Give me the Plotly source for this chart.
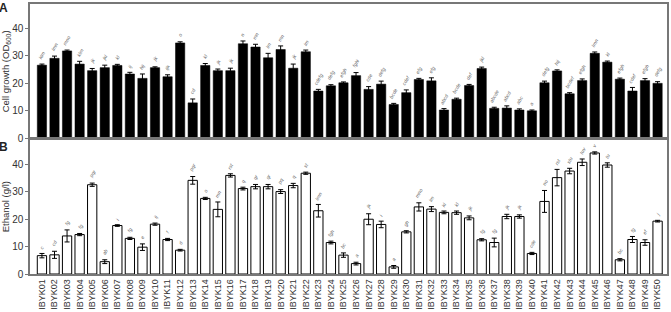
import plotly.graph_objects as go

categories = ["IBYK01","IBYK02","IBYK03","IBYK04","IBYK05","IBYK06","IBYK07","IBYK08","IBYK09","IBYK10",
              "IBYK11","IBYK12","IBYK13","IBYK14","IBYK15","IBYK16","IBYK17","IBYK18","IBYK19","IBYK20",
              "IBYK21","IBYK22","IBYK23","IBYK24","IBYK25","IBYK26","IBYK27","IBYK28","IBYK29","IBYK30",
              "IBYK31","IBYK32","IBYK33","IBYK34","IBYK35","IBYK36","IBYK37","IBYK38","IBYK39","IBYK40",
              "IBYK41","IBYK42","IBYK43","IBYK44","IBYK45","IBYK46","IBYK47","IBYK48","IBYK49","IBYK50"]

growth = [26.5, 29.0, 31.7, 26.9, 24.5, 25.6, 26.4, 23.3, 21.7, 25.6,
          22.3, 34.6, 12.8, 26.4, 24.5, 24.5, 34.3, 33.1, 29.2, 32.2,
          25.4, 31.4, 17.1, 19.0, 20.1, 22.7, 17.7, 19.6, 12.2, 16.5,
          21.3, 20.8, 10.2, 14.1, 19.1, 25.3, 10.8, 10.9, 10.2, 9.9,
          20.1, 24.4, 16.1, 20.9, 30.8, 27.6, 21.4, 17.1, 20.9, 19.9]
growth_err = [0.4, 0.8, 0.3, 1.0, 0.8, 0.9, 0.4, 0.6, 1.6, 0.3,
              0.7, 0.4, 1.4, 0.7, 0.6, 0.9, 1.0, 1.0, 1.6, 1.3,
              1.5, 0.6, 0.6, 0.4, 0.3, 1.1, 1.0, 1.1, 0.4, 1.0,
              0.4, 1.1, 0.5, 0.4, 0.4, 0.5, 0.4, 0.8, 0.4, 0.3,
              0.6, 0.4, 0.4, 0.6, 0.5, 0.4, 0.4, 1.3, 0.7, 0.6]
growth_labels = ["klm","lmn","mno","klm","jk","jkl","kl","ij","hij","jk",
                 "ijk","o","cd","kl","jk","jk","n","mn","lm","mn",
                 "jk","lm","cdefg","defg","efgh","fghi","cde","defg","bcde","cdef",
                 "efg","efg","abcd","bcde","def","jkl","abcde","abcd","abc","a",
                 "defg","hij","bcdef","efgh","lmn","kl","efgh","cdef","efgh","defg"]

ethanol = [6.7, 7.0, 13.9, 14.4, 32.6, 4.5, 17.7, 13.0, 9.8, 18.2,
           12.6, 8.7, 34.2, 27.6, 23.6, 36.0, 31.2, 31.9, 31.9, 30.1,
           32.3, 36.8, 23.1, 11.5, 6.9, 3.8, 20.0, 18.1, 2.6, 15.4,
           24.5, 23.7, 22.5, 22.4, 20.5, 12.5, 11.5, 21.0, 21.0, 7.5,
           26.5, 35.2, 37.6, 40.8, 44.2, 39.8, 5.2, 12.6, 11.5, 19.3]
ethanol_err = [0.8, 1.3, 2.2, 0.4, 0.6, 0.7, 0.3, 0.4, 1.2, 0.4,
               0.4, 0.3, 1.4, 0.4, 2.7, 0.6, 0.5, 0.8, 0.8, 0.7,
               0.8, 0.4, 2.3, 0.5, 0.8, 0.5, 2.0, 1.2, 0.5, 0.4,
               1.5, 0.9, 0.5, 0.6, 0.7, 0.4, 1.6, 0.8, 0.6, 0.4,
               4.0, 3.0, 1.0, 1.2, 0.4, 0.8, 0.4, 1.1, 1.0, 0.3]
ethanol_labels = ["c","cd","fg","fg","pqr","ab","i","fg","e","ij",
                  "f","d","pqr","o","mn","rst","q","qr","qr","pq",
                  "q","st","lmn","fgh","bc","a","jk","i","a","gh",
                  "mno","lm","kl","kl","jk","fg","fg","jk","jk","cde",
                  "no","rst","stu","tuv","v","tu","bc","fg","ef","j"]

FONT = "Arial, Liberation Sans, sans-serif"
fig = go.Figure()

fig.add_trace(go.Bar(
    x=categories, y=growth, xaxis="x", yaxis="y",
    marker=dict(color="black", line=dict(color="black", width=0.5)),
    error_y=dict(type="data", array=growth_err, color="black", thickness=1, width=2.5),
    showlegend=False))
fig.add_trace(go.Bar(
    x=categories, y=ethanol, xaxis="x2", yaxis="y2",
    marker=dict(color="white", line=dict(color="black", width=1)),
    error_y=dict(type="data", array=ethanol_err, color="black", thickness=1, width=2.5),
    showlegend=False))

annotations = []
for c, v, e, t in zip(categories, growth, growth_err, growth_labels):
    annotations.append(dict(x=c, y=v + e, xref="x", yref="y", text="<i>%s</i>" % t,
                            showarrow=False, textangle=-60, yanchor="bottom", yshift=1,
                            font=dict(size=5, color="#666", family=FONT)))
for c, v, e, t in zip(categories, ethanol, ethanol_err, ethanol_labels):
    annotations.append(dict(x=c, y=v + e, xref="x2", yref="y2", text="<i>%s</i>" % t,
                            showarrow=False, textangle=-60, yanchor="bottom", yshift=1,
                            font=dict(size=5, color="#666", family=FONT)))

annotations += [
    dict(x=-0.038, y=0.75, xref="paper", yref="paper", text="Cell growth (OD<sub>600</sub>)",
         textangle=-90, showarrow=False, xanchor="center", yanchor="middle",
         font=dict(size=9.5, color="#333", family=FONT)),
    dict(x=-0.038, y=0.25, xref="paper", yref="paper", text="Ethanol (g/l)",
         textangle=-90, showarrow=False, xanchor="center", yanchor="middle",
         font=dict(size=9.5, color="#333", family=FONT)),
    dict(x=-0.041, y=1.018, xref="paper", yref="paper", text="<b>A</b>", xanchor="center",
         yanchor="top", showarrow=False, font=dict(size=12, color="#222", family=FONT)),
    dict(x=-0.041, y=0.505, xref="paper", yref="paper", text="<b>B</b>", xanchor="center",
         yanchor="top", showarrow=False, font=dict(size=12, color="#222", family=FONT)),
]

axis_line = dict(showline=True, linecolor="#777", linewidth=1.5, mirror=True, showgrid=False, zeroline=False)
xr = [-0.95, 49.75]

fig.update_layout(
    width=671, height=312,
    margin=dict(l=30, r=2, t=2, b=34),
    paper_bgcolor="white", plot_bgcolor="white",
    bargap=0.26,
    font=dict(family=FONT, color="#333"),
    xaxis=dict(domain=[0, 1], anchor="y", range=xr, showticklabels=False, ticks="", **axis_line),
    yaxis=dict(domain=[0.5036, 1], anchor="x", range=[0, 48.75], tickvals=[0, 10, 20, 30, 40],
               ticks="outside", ticklen=3, tickcolor="#777", tickfont=dict(size=10, color="#333"), **axis_line),
    xaxis2=dict(domain=[0, 1], anchor="y2", range=xr, ticks="", tickangle=-90,
                tickfont=dict(size=9, color="#333"), **axis_line),
    yaxis2=dict(domain=[0, 0.5], anchor="x2", range=[0, 49.3], tickvals=[0, 10, 20, 30, 40],
                ticks="outside", ticklen=3, tickcolor="#777", tickfont=dict(size=10, color="#333"), **axis_line),
    annotations=annotations,
)

fig.write_html("out.html")
